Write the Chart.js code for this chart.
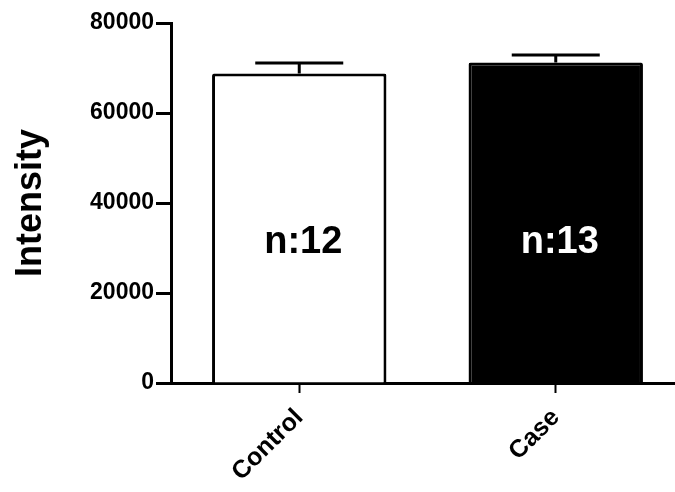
<!DOCTYPE html>
<html>
<head>
<meta charset="utf-8">
<script src="https://cdn.jsdelivr.net/npm/chart.js@4/dist/chart.umd.min.js"></script>
<style>
  html, body { margin: 0; padding: 0; background: #fff; overflow: hidden; }
</style>
</head>
<body>
<canvas id="chart" width="684" height="492"></canvas>
<script>
// group names on the x axis
const groups = ['Control', 'Case'];
// mean intensity per group
const means = [68800, 71200];
// error bar (SEM) per group
const errors = [2300, 1700];
// sample size labels written inside the bars
const nLabels = ['n:12', 'n:13'];
const barFills = ['#ffffff', '#000000'];
const nColors = ['#000000', '#ffffff'];
// y axis ticks
const yTicks = [0, 20000, 40000, 60000, 80000];

const FONT = "Arial, 'Liberation Sans', sans-serif";

// draws the one-sided error bars and the n: labels
const barExtras = {
  id: 'barExtras',
  afterDatasetsDraw(chart) {
    const ctx = chart.ctx;
    const x = chart.scales.x;
    const y = chart.scales.y;
    ctx.save();
    ctx.strokeStyle = '#000';
    ctx.lineWidth = 3;
    groups.forEach((g, i) => {
      const cx = x.getPixelForValue(i);
      const top = y.getPixelForValue(means[i]);
      const hi = y.getPixelForValue(means[i] + errors[i]);
      ctx.beginPath();
      ctx.moveTo(cx, top);
      ctx.lineTo(cx, hi);
      ctx.moveTo(cx - 44, hi);
      ctx.lineTo(cx + 44, hi);
      ctx.stroke();

      ctx.fillStyle = nColors[i];
      ctx.font = 'bold 38px ' + FONT;
      ctx.textAlign = 'center';
      ctx.textBaseline = 'middle';
      ctx.fillText(nLabels[i], cx + 4, y.getPixelForValue(31300));
    });
    ctx.restore();
  }
};

new Chart(document.getElementById('chart'), {
  type: 'bar',
  data: {
    labels: groups,
    datasets: [{
      data: means,
      backgroundColor: barFills,
      borderColor: '#000',
      borderWidth: 3,
      borderSkipped: 'bottom',
      borderRadius: 2,
      categoryPercentage: 1,
      barPercentage: 0.68
    }]
  },
  options: {
    responsive: false,
    animation: false,
    layout: { padding: { top: 23, right: 0, left: 0, bottom: 0 } },
    plugins: {
      legend: { display: false },
      tooltip: { enabled: false }
    },
    scales: {
      x: {
        grid: {
          offset: false,
          drawOnChartArea: false,
          drawTicks: true,
          tickLength: 10,
          tickWidth: 2,
          tickColor: '#000'
        },
        border: { color: '#000', width: 3 },
        ticks: {
          color: '#000',
          font: { family: FONT, size: 25, weight: 'bold' },
          minRotation: 45,
          maxRotation: 45,
          padding: 10
        },
        afterFit(scale) { scale.height = 109; }
      },
      y: {
        min: 0,
        max: 80000,
        afterBuildTicks(scale) {
          scale.ticks = yTicks.map(v => ({ value: v }));
        },
        grid: {
          drawOnChartArea: false,
          drawTicks: true,
          tickLength: 15,
          tickWidth: 3,
          tickColor: '#000'
        },
        border: { color: '#000', width: 3 },
        ticks: {
          color: '#000',
          font: { family: FONT, size: 23, weight: 'bold' },
          padding: 2,
          callback: v => String(v)
        },
        title: {
          display: true,
          text: 'Intensity',
          color: '#000',
          font: { family: FONT, size: 36, weight: 'bold' },
          padding: { top: 9, bottom: 0 }
        },
        afterFit(scale) { scale.width = 171; }
      }
    }
  },
  plugins: [barExtras]
});
</script>
</body>
</html>
